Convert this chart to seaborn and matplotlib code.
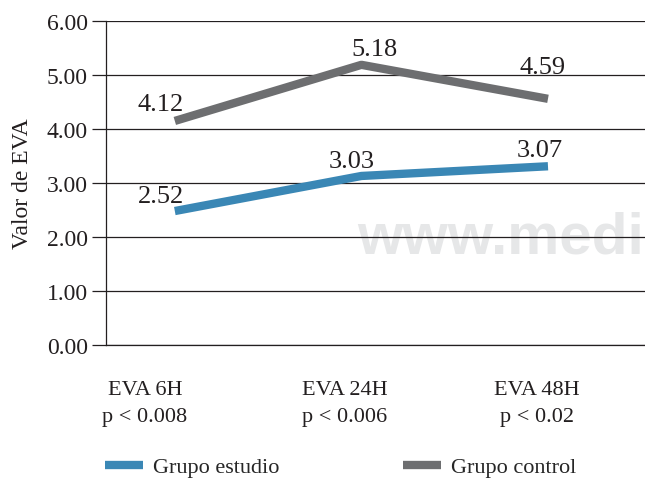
import matplotlib.pyplot as plt
import seaborn as sns
import pandas as pd

categories = ['EVA 6H\np < 0.008', 'EVA 24H\np < 0.006', 'EVA 48H\np < 0.02']
groups = ['Grupo estudio', 'Grupo control']
estudio_values = [2.48, 3.13, 3.31]
control_values = [4.15, 5.19, 4.56]
estudio_labels = ['2.52', '3.03', '3.07']
control_labels = ['4.12', '5.18', '4.59']
y_ticks = [0, 1, 2, 3, 4, 5, 6]

colors = {'Grupo estudio': '#3A87B5', 'Grupo control': '#6D6E70'}


def build_frame():
    rows = []
    for i, v in enumerate(estudio_values):
        rows.append({'x': i, 'valor': v, 'grupo': groups[0]})
    for i, v in enumerate(control_values):
        rows.append({'x': i, 'valor': v, 'grupo': groups[1]})
    return pd.DataFrame(rows)


def main():
    sns.set_style('white')
    plt.rcParams['font.family'] = ['Liberation Serif', 'DejaVu Serif']
    df = build_frame()

    fig = plt.figure(figsize=(6.45, 4.81), dpi=100)
    ax = fig.add_axes([0.164, 0.281, 0.836, 0.673])

    # watermark behind everything (cut at the right edge like the source)
    ax.text(0.98, 1.98, 'www.medig', fontsize=42, fontweight='bold',
            family='Liberation Sans', color='#E6E7E8', ha='left', va='center',
            zorder=0, clip_on=True)

    sns.lineplot(data=df, x='x', y='valor', hue='grupo', palette=colors,
                 hue_order=groups, linewidth=6, ax=ax, legend=False, zorder=3,
                 solid_capstyle='butt')

    # label offsets in pixels from each point
    offsets_e = [(-14, 15), (-10, 15), (-8, 16)]
    offsets_c = [(-14, 17), (13, 16), (-5, 32)]
    for i, (v, lab) in enumerate(zip(estudio_values, estudio_labels)):
        ax.annotate(lab, (i, v), xytext=offsets_e[i], textcoords='offset pixels',
                    ha='center', va='center', fontsize=19, color='#231F20')
    for i, (v, lab) in enumerate(zip(control_values, control_labels)):
        ax.annotate(lab, (i, v), xytext=offsets_c[i], textcoords='offset pixels',
                    ha='center', va='center', fontsize=19, color='#231F20')

    ax.set_ylim(0, 6)
    ax.set_xlim(-0.37, 2.52)
    ax.set_yticks(y_ticks)
    ax.set_yticklabels([f'{t:.2f}' for t in y_ticks])
    ax.yaxis.grid(True, color='#231F20', linewidth=0.9, zorder=1)
    ax.set_axisbelow(True)
    ax.tick_params(axis='y', length=10, width=0.9, color='#231F20', pad=3,
                   labelsize=17, labelcolor='#231F20', left=True)

    ax.set_xticks([-0.16, 0.91, 1.94])
    ax.set_xticklabels(categories, linespacing=1.63)
    ax.tick_params(axis='x', length=0, pad=25, labelsize=16, labelcolor='#231F20')

    ax.set_xlabel('')
    ax.set_ylabel('Valor de EVA', fontsize=17, color='#231F20', labelpad=10)

    for side in ['top', 'right']:
        ax.spines[side].set_visible(False)
    for side in ['left', 'bottom']:
        ax.spines[side].set_color('#231F20')
        ax.spines[side].set_linewidth(0.9)

    handles = [plt.Line2D([], [], color=colors[g], linewidth=6, solid_capstyle='butt')
               for g in groups]
    fig.legend(handles, groups, loc='center', bbox_to_anchor=(0.528, 0.027),
               ncol=2, frameon=False, fontsize=16, handlelength=1.7,
               columnspacing=5.6, handletextpad=0.45)

    fig.savefig('out.png', dpi=100)


if __name__ == '__main__':
    main()
